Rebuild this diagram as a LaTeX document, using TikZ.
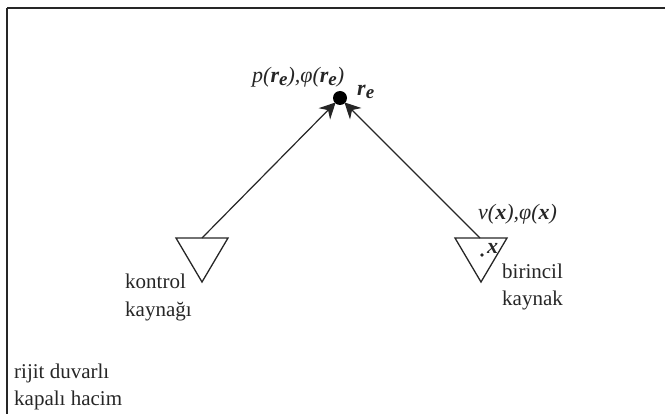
\documentclass[tikz,border=0pt]{standalone}
\usepackage{fontspec}
\setmainfont{Liberation Serif}
\usetikzlibrary{arrows.meta}
\newcommand{\bsub}[1]{\raisebox{-2.5pt}{\fontsize{19}{19}\selectfont\textbf{#1}}}
\begin{document}
\begin{tikzpicture}[x=1pt,y=-1pt,
  lbl/.style={inner sep=0pt,anchor=base west,font=\fontsize{21}{24}\selectfont,text=black!85},
  mth/.style={inner sep=0pt,anchor=base west,font=\fontsize{22}{24}\selectfont\itshape,text=black!85},
  src/.style={draw=black!85,line width=1.3pt},
  conn/.style={draw=black!85,line width=1.2pt,shorten >=-1pt,-{Stealth[length=16pt,width=16pt]}}]
\useasboundingbox (0,0) rectangle (665,414);
\draw[line width=1.3pt,black!85] (7,8) -- (665,8);
\draw[line width=1.3pt,black!85] (7,8) -- (7,414);
\coordinate (ctop) at (202,238);
\coordinate (ptop) at (480,238);
\node[circle,fill=black,inner sep=0pt,minimum size=14pt] (re) at (340,98) {};
\draw[src] (176,238) -- (228,238) -- (202,282) -- cycle;
\draw[src] (455,238) -- (507,238) -- (481,282) -- cycle;
\draw[conn] (ctop) -- (re);
\draw[conn] (ptop) -- (re);
\node[mth] (l1) at (252,83) {p(\textbf{r}\bsub{e}),φ(\textbf{r}\bsub{e})};
\node[mth] (l2) at (357,96) {\textbf{r}\bsub{e}};
\node[mth] (l3) at (478,220) {ν(\textbf{x}),φ(\textbf{x})};
\node[mth] (l4) at (487,254) {\textbf{x}};
\fill[black!85] (482,255) circle (1.8pt);
\node[lbl] (a1) at (125,289) {kontrol};
\node[lbl] (a2) at (125,317) {kaynağı};
\node[lbl] (b1) at (502,279) {birincil};
\node[lbl] (b2) at (502,306) {kaynak};
\node[lbl] (c1) at (14,379) {rijit duvarlı};
\node[lbl] (c2) at (14,406) {kapalı hacim};
\end{tikzpicture}
\end{document}
